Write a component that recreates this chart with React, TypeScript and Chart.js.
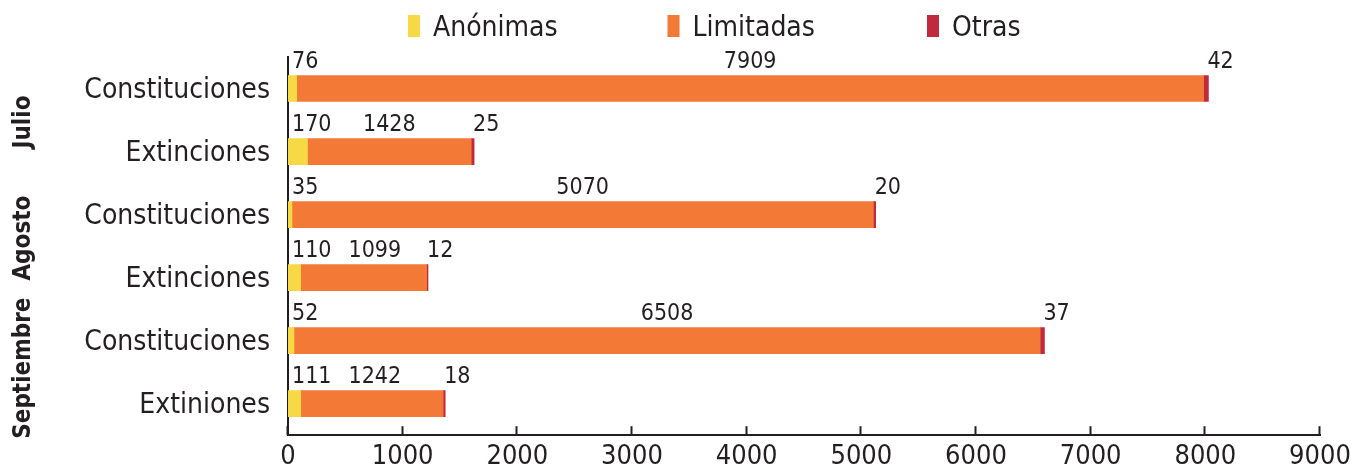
import React, { useEffect, useRef } from "react";
import { Chart, registerables } from "chart.js";

Chart.register(...registerables);

const categories = ["Constituciones", "Extinciones", "Constituciones", "Extinciones", "Constituciones", "Extiniones"];
const months = ["Julio", "Agosto", "Septiembre"];
const seriesNames = ["Anónimas", "Limitadas", "Otras"];
const anonimas = [76, 170, 35, 110, 52, 111];
const limitadas = [7909, 1428, 5070, 1099, 6508, 1242];
const otras = [42, 25, 20, 12, 37, 18];
const xTicks = [0, 1000, 2000, 3000, 4000, 5000, 6000, 7000, 8000, 9000];

const COLORS = ["#F7D945", "#F37937", "#C1293C"];
const TEXT = "#231F20";
const FONT = '"DejaVu Sans Condensed", "DejaVu Sans", sans-serif';

const overlayPlugin = {
  id: "overlay",
  afterDatasetsDraw(chart: any) {
    const ctx = chart.ctx;
    const xs = chart.scales.x;
    const area = chart.chartArea;
    ctx.save();
    // tick marks pointing up from x axis
    ctx.strokeStyle = TEXT;
    ctx.lineWidth = 2;
    xTicks.forEach((v) => {
      const px = Math.round(xs.getPixelForValue(v)) - 0.5;
      ctx.beginPath();
      ctx.moveTo(px, area.bottom);
      ctx.lineTo(px, area.bottom - 9);
      ctx.stroke();
    });
    // data labels
    ctx.fillStyle = TEXT;
    ctx.font = `23px ${FONT}`;
    ctx.textBaseline = "alphabetic";
    const metas = [0, 1, 2].map((d) => chart.getDatasetMeta(d));
    const values = [anonimas, limitadas, otras];
    categories.forEach((_, i) => {
      const b0 = metas[0].data[i];
      const b1 = metas[1].data[i];
      const b2 = metas[2].data[i];
      const y = b0.y - b0.height / 2 - 7.5;
      const t0 = String(values[0][i]);
      const x0 = Math.min(b0.base, b0.x) + 4;
      ctx.textAlign = "left";
      ctx.fillText(t0, x0, y);
      const end0 = x0 + ctx.measureText(t0).width;
      const t1 = String(values[1][i]);
      const w1 = ctx.measureText(t1).width;
      let c1 = (b1.x + b1.base) / 2;
      if (c1 - w1 / 2 < end0 + 17) c1 = end0 + 17 + w1 / 2;
      ctx.textAlign = "center";
      ctx.fillText(t1, c1, y);
      ctx.textAlign = "left";
      ctx.fillText(String(values[2][i]), Math.max(b2.x, b2.base) - 1, y);
    });
    ctx.restore();
  },
  afterDraw(chart: any) {
    const ctx = chart.ctx;
    const ys = chart.scales.y;
    ctx.save();
    ctx.font = `28px ${FONT}`;
    ctx.textAlign = "left";
    ctx.textBaseline = "alphabetic";
    seriesNames.forEach((name, i) => {
      const bx = 408 + i * 259.5;
      ctx.fillStyle = COLORS[i];
      ctx.fillRect(bx, 15, 12, 22);
      ctx.fillStyle = TEXT;
      ctx.fillText(name, bx + 25, 36);
    });
    const offs = [2, -8, -4];
    ctx.font = `bold 24px ${FONT}`;
    ctx.textAlign = "center";
    ctx.fillStyle = TEXT;
    months.forEach((m, k) => {
      const yc = (ys.getPixelForValue(2 * k) + ys.getPixelForValue(2 * k + 1)) / 2 + offs[k];
      ctx.save();
      ctx.translate(30, yc);
      ctx.rotate(-Math.PI / 2);
      ctx.fillText(m, 0, 0);
      ctx.restore();
    });
    ctx.restore();
  },
};

export default function App() {
  const ref = useRef<HTMLCanvasElement | null>(null);
  useEffect(() => {
    if (!ref.current) return;
    const chart = new Chart(ref.current, {
      type: "bar",
      data: {
        labels: categories,
        datasets: [
          { label: seriesNames[0], data: anonimas, backgroundColor: COLORS[0] },
          { label: seriesNames[1], data: limitadas, backgroundColor: COLORS[1] },
          { label: seriesNames[2], data: otras, backgroundColor: COLORS[2] },
        ],
      },
      options: {
        indexAxis: "y",
        responsive: false,
        animation: false,
        events: [],
        layout: { padding: { top: 57, right: 45, left: 0, bottom: 0 } },
        datasets: { bar: { barThickness: 26, borderWidth: 0 } },
        plugins: { legend: { display: false }, tooltip: { enabled: false } },
        scales: {
          x: {
            stacked: true,
            min: 0,
            max: 9000,
            grid: { display: false, drawTicks: false },
            border: { display: true, width: 2, color: TEXT },
            ticks: {
              stepSize: 1000,
              color: TEXT,
              font: { family: FONT, size: 27 },
              padding: 6,
              maxRotation: 0,
              callback: (v: any) => String(v),
            },
            afterFit: (s: any) => { s.height = 33; },
          },
          y: {
            stacked: true,
            grid: { display: false, drawTicks: false },
            border: { display: true, width: 2, color: TEXT },
            ticks: { color: TEXT, font: { family: FONT, size: 28 }, padding: 18, labelOffset: 2 },
            afterFit: (s: any) => { s.width = 288; },
          },
        },
      },
      plugins: [overlayPlugin],
    } as any);
    return () => chart.destroy();
  }, []);
  return (
    <div style={{ position: "absolute", left: 0, top: 0, width: 1365, height: 470, background: "#fff" }}>
      <canvas ref={ref} width={1365} height={470} />
    </div>
  );
}
